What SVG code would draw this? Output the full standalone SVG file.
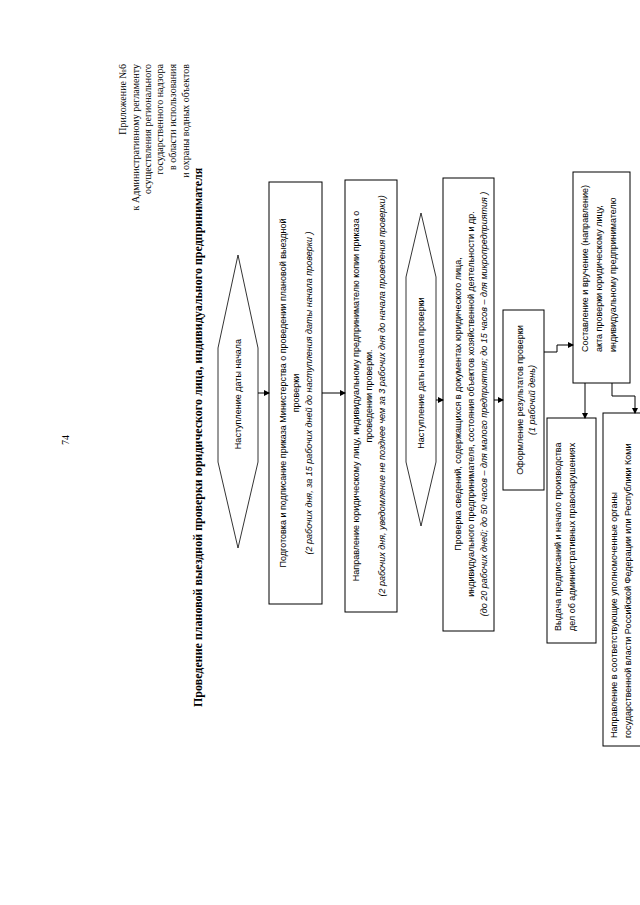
<svg xmlns="http://www.w3.org/2000/svg" width="640" height="905" viewBox="0 0 640 905">
<style>
.bx{fill:#fff;stroke:#000;stroke-width:1}
.hx{fill:#fff;stroke:#000;stroke-width:0.8}
.t{font-family:"Liberation Sans",Arial,sans-serif;font-size:9px;fill:#000}
.ti{font-family:"Liberation Sans",Arial,sans-serif;font-size:9px;font-style:italic;fill:#000}
.s{font-family:"Liberation Serif","Times New Roman",serif;font-size:10px;fill:#000}
.h{font-family:"Liberation Serif","Times New Roman",serif;font-size:12px;font-weight:bold;fill:#000}
.c{fill:none;stroke:#000;stroke-width:1}
</style>
<defs>
<marker id="ar" markerWidth="6" markerHeight="6" refX="5" refY="3" orient="auto" markerUnits="userSpaceOnUse">
<path d="M0,0 L6,3 L0,6 Z" fill="#000"/>
</marker>
</defs>
<g id="page-number"><text class="s" font-size="11" transform="translate(69,440) rotate(-90)" text-anchor="middle">74</text></g>
<g id="appendix" text-anchor="end">
<text class="s" transform="translate(126,64) rotate(-90)">Приложение №6</text>
<text class="s" transform="translate(139,64) rotate(-90)">к Административному регламенту</text>
<text class="s" transform="translate(151,64) rotate(-90)">осуществления регионального</text>
<text class="s" transform="translate(163,64) rotate(-90)">государственного надзора</text>
<text class="s" transform="translate(176,64) rotate(-90)">в области использования</text>
<text class="s" transform="translate(189,64) rotate(-90)">и охраны водных объектов</text>
</g>
<g id="title"><text class="h" transform="translate(202,707) rotate(-90)">Проведение плановой выездной проверки юридического лица, индивидуального предпринимателя</text></g>
<g id="start1">
<polygon class="hx" points="238,255 258,348 258,462 238,548 218,462 218,348"/>
<text class="t" transform="translate(241,394) rotate(-90)" text-anchor="middle">Наступление даты начала</text>
</g>
<g id="prepare">
<rect class="bx" x="269" y="182" width="53" height="422"/>
<g text-anchor="middle">
<text class="t" transform="translate(286,393) rotate(-90)">Подготовка и подписание приказа Министерства о проведении плановой выездной</text>
<text class="t" transform="translate(299,393) rotate(-90)">проверки</text>
<text class="ti" transform="translate(312,393) rotate(-90)">(2 рабочих дня, за 15 рабочих дней до наступления даты начала проверки )</text>
</g>
</g>
<g id="notify">
<rect class="bx" x="345" y="180" width="52" height="432"/>
<g text-anchor="middle">
<text class="t" transform="translate(359,396) rotate(-90)">Направление юридическому лицу, индивидуальному предпринимателю копии приказа о</text>
<text class="t" transform="translate(372,396) rotate(-90)">проведении проверки.</text>
<text class="ti" transform="translate(385,396) rotate(-90)">(2 рабочих дня, уведомление не позднее чем за 3 рабочих дня до начала проведения проверки)</text>
</g>
</g>
<g id="start2">
<polygon class="hx" points="421,213 436,277 436,462 421,526 406,462 406,277"/>
<text class="t" transform="translate(424,373) rotate(-90)" text-anchor="middle">Наступление даты начала проверки</text>
</g>
<g id="check">
<rect class="bx" x="443" y="178" width="51" height="453"/>
<g text-anchor="middle">
<text class="t" transform="translate(461,404) rotate(-90)">Проверка сведений, содержащихся в документах юридического лица,</text>
<text class="t" transform="translate(474,404) rotate(-90)">индивидуального предпринимателя, состояния объектов хозяйственной деятельности и др.</text>
<text class="ti" transform="translate(487,404) rotate(-90)">(до 20 рабочих дней;  до 50 часов – для малого предприятия;  до 15 часов – для микропредприятия )</text>
</g>
</g>
<g id="results">
<rect class="bx" x="503" y="310" width="41" height="180"/>
<g text-anchor="middle">
<text class="t" transform="translate(523,400) rotate(-90)">Оформление результатов проверки</text>
<text class="ti" transform="translate(535,400) rotate(-90)">(1 рабочий день)</text>
</g>
</g>
<g id="act">
<rect class="bx" x="573" y="172" width="57" height="211"/>
<text class="t" font-size="8.5" transform="translate(588,352) rotate(-90)">Составление и вручение (направление)</text>
<text class="t" font-size="8.5" transform="translate(602,352) rotate(-90)">акта проверки юридическому лицу,</text>
<text class="t" font-size="8.5" transform="translate(616,352) rotate(-90)">индивидуальному предпринимателю</text>
</g>
<g id="orders">
<rect class="bx" x="547" y="418" width="49" height="225"/>
<text class="t" transform="translate(561,631) rotate(-90)">Выдача предписаний и начало производства</text>
<text class="t" transform="translate(575,631) rotate(-90)">дел об административных правонарушениях</text>
</g>
<g id="authorities">
<rect class="bx" x="603" y="413" width="60" height="333"/>
<text class="t" transform="translate(617,738) rotate(-90)">Направление в соответствующие уполномоченные органы</text>
<text class="t" transform="translate(631,738) rotate(-90)">государственной власти Российской Федерации или Республики Коми</text>
</g>
<g id="connectors">
<path class="c" d="M258,393 H269" marker-end="url(#ar)"/>
<path class="c" d="M322,393 H345" marker-end="url(#ar)"/>
<path class="c" d="M436,400 H443" marker-end="url(#ar)"/>
<path class="c" d="M494,400 H503" marker-end="url(#ar)"/>
<path class="c" d="M544,352 H557 V345 H573" marker-end="url(#ar)"/>
<path class="c" d="M585,383 V418" marker-end="url(#ar)"/>
<path class="c" d="M612,383 V396 H635 V413" marker-end="url(#ar)"/>
</g>
</svg>
